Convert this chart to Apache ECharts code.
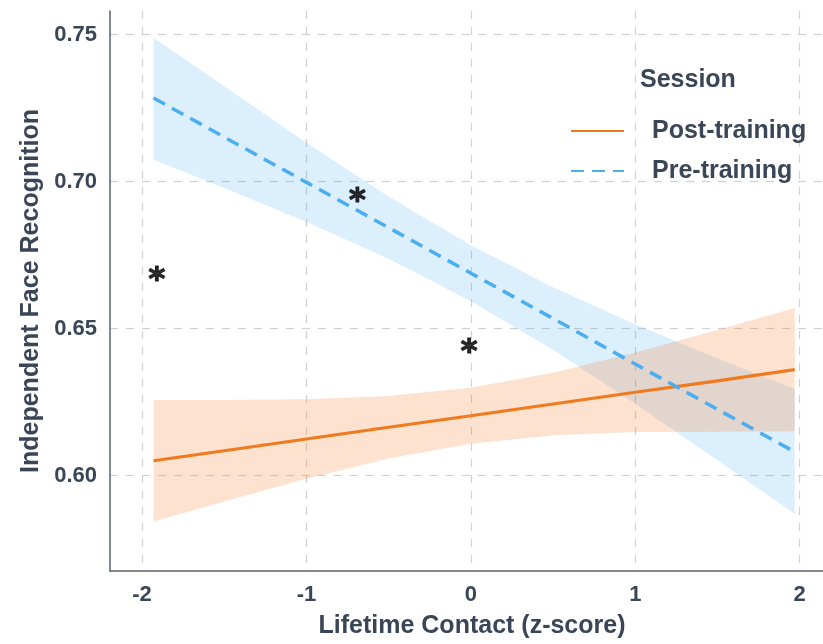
<!DOCTYPE html>
<html>
<head>
<meta charset="utf-8">
<script src="https://cdn.jsdelivr.net/npm/echarts@6/dist/echarts.min.js"></script>
<style>
  html, body { margin: 0; padding: 0; background: #ffffff; }
  #chart { width: 823px; height: 644px; }
</style>
</head>
<body>
<div id="chart"></div>
<script>
// Fitted lines with 95% confidence bands, by session
const contact = [-1.93, -1.5, -1.0, -0.5, 0.0, 0.5, 1.0, 1.5, 1.97];

const preFit   = [0.7284, 0.7151, 0.6997, 0.6843, 0.6688, 0.6534, 0.6379, 0.6225, 0.6080];
const preLow   = [0.7075, 0.6978, 0.6862, 0.6737, 0.6593, 0.6428, 0.6244, 0.6052, 0.5870];
const preHigh  = [0.7489, 0.7324, 0.7132, 0.6949, 0.6783, 0.6640, 0.6514, 0.6398, 0.6295];

const postFit  = [0.6050, 0.6084, 0.6124, 0.6164, 0.6203, 0.6243, 0.6283, 0.6322, 0.6360];
const postLow  = [0.5843, 0.5911, 0.5989, 0.6058, 0.6108, 0.6137, 0.6148, 0.6149, 0.6150];
const postHigh = [0.6257, 0.6257, 0.6259, 0.6270, 0.6298, 0.6349, 0.6418, 0.6495, 0.6570];

// Significance markers
const starX = [-1.91, -0.69, -0.01];
const starY = [0.6690, 0.6958, 0.6444];

const xTicks = [-2, -1, 0, 1, 2];
const yTicks = [0.60, 0.65, 0.70, 0.75];

const textColor = '#3a4658';
const gridColor = '#d0d0d0';
const postColor = '#f07a1e';
const preColor = '#4aaef0';

function bandData(lo, hi) {
  return contact.map((x, i) => [x, lo[i], hi[i]]);
}

function bandSeries(name, lo, hi, fill) {
  return {
    type: 'custom',
    name: name + ' CI',
    silent: true,
    z: 1,
    data: bandData(lo, hi),
    encode: { x: 0, y: [1, 2] },
    renderItem: function (params, api) {
      if (params.dataIndexInside !== 0) return;
      const upper = contact.map((x, i) => api.coord([x, hi[i]]));
      const lower = contact.map((x, i) => api.coord([x, lo[i]])).reverse();
      return {
        type: 'polygon',
        shape: { points: upper.concat(lower) },
        style: { fill: fill, stroke: null }
      };
    }
  };
}

const chart = echarts.init(document.getElementById('chart'), null, { renderer: 'canvas' });

chart.setOption({
  animation: false,
  backgroundColor: '#ffffff',
  textStyle: { fontFamily: 'Liberation Sans, Arial, sans-serif' },
  title: {
    text: 'Session',
    left: 635,
    top: 63,
    textStyle: { color: textColor, fontSize: 25, fontWeight: 'bold' }
  },
  legend: {
    orient: 'vertical',
    left: 565,
    top: 113,
    itemWidth: 53,
    itemHeight: 14,
    itemGap: 14,
    data: ['Post-training', 'Pre-training'],
    itemStyle: { opacity: 0 },
    textStyle: { color: textColor, fontSize: 25, fontWeight: 'bold', padding: [0, 0, 0, 23], lineHeight: 26 }
  },
  grid: { left: 110, top: 11, right: 0, bottom: 71 },
  xAxis: {
    type: 'value',
    min: -2.195,
    max: 2.142,
    name: 'Lifetime Contact (z-score)',
    nameLocation: 'middle',
    nameGap: 43,
    nameTextStyle: { color: textColor, fontSize: 25, fontWeight: 'bold', padding: [0, 0, 0, 11] },
    axisLine: { show: true, onZero: false, lineStyle: { color: '#5a6270', width: 1.5 } },
    axisTick: { show: false, customValues: xTicks },
    axisLabel: {
      customValues: xTicks,
      color: textColor, fontSize: 22, fontWeight: 'bold', margin: 13,
      formatter: v => String(Math.round(v))
    },
    splitLine: { show: true, lineStyle: { color: gridColor, type: [8, 8], width: 1.2 } }
  },
  yAxis: {
    type: 'value',
    min: 0.5675,
    max: 0.758,
    name: 'Independent Face Recognition',
    nameLocation: 'middle',
    nameGap: 62,
    nameTextStyle: { color: textColor, fontSize: 25, fontWeight: 'bold' },
    axisLine: { show: true, onZero: false, lineStyle: { color: '#5a6270', width: 1.5 } },
    axisTick: { show: false, customValues: yTicks },
    axisLabel: {
      customValues: yTicks,
      color: textColor, fontSize: 22, fontWeight: 'bold', margin: 13,
      formatter: v => v.toFixed(2)
    },
    splitLine: { show: true, lineStyle: { color: gridColor, type: [8, 8], width: 1.2 } }
  },
  series: [
    bandSeries('Pre-training', preLow, preHigh, 'rgba(60, 165, 245, 0.18)'),
    bandSeries('Post-training', postLow, postHigh, 'rgba(245, 125, 40, 0.22)'),
    {
      type: 'line',
      name: 'Post-training',
      data: contact.map((x, i) => [x, postFit[i]]),
      symbol: 'none',
      z: 3,
      lineStyle: { color: postColor, width: 3.2 },
      itemStyle: { color: postColor }
    },
    {
      type: 'line',
      name: 'Pre-training',
      data: contact.map((x, i) => [x, preFit[i]]),
      symbol: 'none',
      z: 3,
      lineStyle: { color: preColor, width: 3.5, type: [13, 8] },
      itemStyle: { color: preColor }
    },
    {
      type: 'scatter',
      name: 'significance',
      data: starX.map((x, i) => [x, starY[i]]),
      symbolSize: 0,
      z: 4,
      silent: true,
      label: {
        show: true,
        position: 'inside',
        formatter: '*',
        color: '#000000',
        fontFamily: 'DejaVu Sans',
        fontSize: 32,
        fontWeight: 'bold',
        textBorderColor: '#000000',
        textBorderWidth: 1.2,
        offset: [0, 8]
      }
    }
  ]
});
</script>
</body>
</html>
